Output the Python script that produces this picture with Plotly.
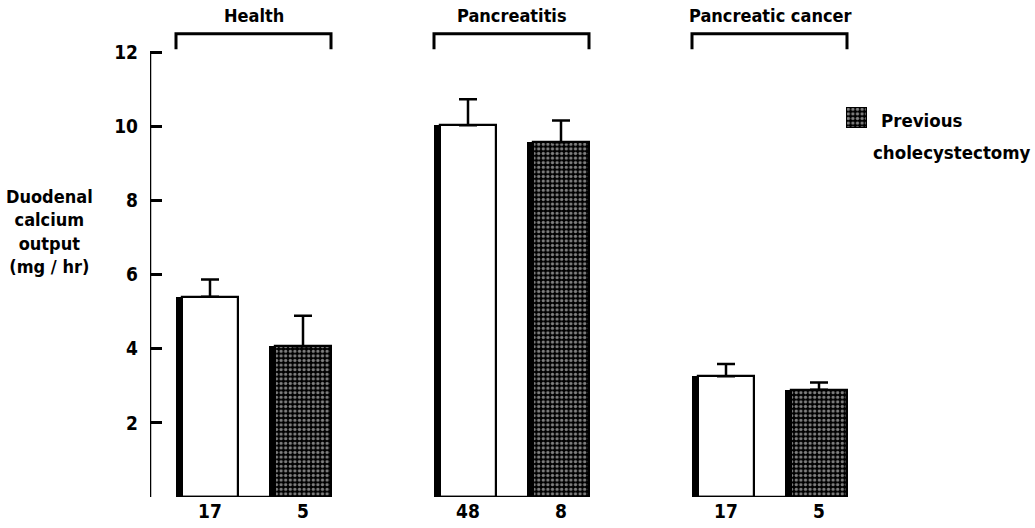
import plotly.graph_objects as go

# ---------------- data ----------------
groups = ["Health", "Pancreatitis", "Pancreatic cancer"]
mean_no_chole = [5.40, 10.03, 3.26]      # open bars
err_no_chole = [0.47, 0.70, 0.33]
mean_chole = [4.07, 9.57, 2.89]          # hatched bars (previous cholecystectomy)
err_chole = [0.82, 0.59, 0.20]
n_no_chole = ["17", "48", "17"]
n_chole = ["5", "8", "5"]
y_ticks = [0, 2, 4, 6, 8, 10, 12]
y_ticktext = ["", "2", "4", "6", "8", "10", "12"]
y_title = "Duodenal<br>calcium<br>output<br>(mg / hr)"
legend_lines = ["Previous", "cholecystectomy"]

# ---------------- layout geometry (pixel-like x units) ----------------
G0, GSTEP, PSTEP, FOOT_W, SH_W = 176, 258, 93, 62, 6
FONT = "DejaVu Sans Condensed, Liberation Sans Narrow, Arial Narrow, sans-serif"
PL, PT, PB, W, H = 150, 4, 31, 1035, 528
PW, PH = W - PL, H - PT - PB

def foot_left(g, k):
    return G0 + g * GSTEP + k * PSTEP

body_w = FOOT_W - SH_W
x_body_open = [foot_left(g, 0) + SH_W + body_w / 2 for g in range(len(groups))]
x_body_hatch = [foot_left(g, 1) + SH_W + body_w / 2 for g in range(len(groups))]
x_sh_open = [foot_left(g, 0) + SH_W / 2 for g in range(len(groups))]
x_sh_hatch = [foot_left(g, 1) + SH_W / 2 for g in range(len(groups))]

HATCH = dict(shape=".", fgcolor="white", bgcolor="black", size=4.6, solidity=0.4)

fig = go.Figure()

# shadows (black left faces)
fig.add_trace(go.Bar(x=x_sh_open + x_sh_hatch, y=mean_no_chole + mean_chole,
                     width=SH_W, marker=dict(color="black", line=dict(width=0)),
                     showlegend=False, hoverinfo="skip"))
# open bars
fig.add_trace(go.Bar(x=x_body_open, y=mean_no_chole, width=body_w,
                     marker=dict(color="white", line=dict(color="black", width=2.2)),
                     error_y=dict(type="data", array=err_no_chole, arrayminus=[0] * 3,
                                  symmetric=False, color="black", thickness=2.5, width=9),
                     showlegend=False))
# hatched bars
fig.add_trace(go.Bar(x=x_body_hatch, y=mean_chole, width=body_w,
                     marker=dict(color="black", line=dict(color="black", width=2.2),
                                 pattern=HATCH),
                     error_y=dict(type="data", array=err_chole, arrayminus=[0] * 3,
                                  symmetric=False, color="black", thickness=2.5, width=9),
                     showlegend=False))

# legend key (patterned square on tiny overlay axes)
fig.add_trace(go.Bar(x=[0.5], y=[1], width=1, xaxis="x2", yaxis="y2",
                     marker=dict(color="black", line=dict(color="black", width=2),
                                 pattern=HATCH),
                     showlegend=False, hoverinfo="skip"))

def px_x(px):
    return (px - PL) / PW

def px_y(py):
    return (H - PB - py) / PH

shapes = []
# y-axis line
shapes.append(dict(type="line", xref="x", yref="y", x0=150, x1=150, y0=0, y1=12,
                   line=dict(color="black", width=2.5)))
annotations = []
TF = dict(size=18, family=FONT, color="black", weight="bold")
for g, name in enumerate(groups):
    left = foot_left(g, 0)
    right = foot_left(g, 1) + FOOT_W
    shapes.append(dict(type="line", xref="x", yref="y", x0=left, x1=right, y0=0, y1=0,
                       line=dict(color="black", width=2.5)))
    shapes.append(dict(type="path", xref="x", yref="y",
                       path=f"M {left} 12.08 L {left} 12.5 L {right} 12.5 L {right} 12.08",
                       line=dict(color="black", width=3)))
    annotations.append(dict(x=(left + right) / 2, y=13.0, xref="x", yref="y", text=name,
                            showarrow=False, font=TF))

annotations.append(dict(x=px_x(49), y=px_y(231), xref="paper", yref="paper", text=y_title,
                        showarrow=False, xanchor="center", yanchor="middle", align="center",
                        font=dict(TF, size=18)))
annotations.append(dict(x=879, y=10.17, xref="x", yref="y", text=legend_lines[0],
                        showarrow=False, xanchor="left", font=dict(TF, size=18.5)))
annotations.append(dict(x=871, y=9.30, xref="x", yref="y", text=legend_lines[1],
                        showarrow=False, xanchor="left", font=dict(TF, size=18.5)))

fig.update_layout(
    width=W, height=H,
    margin=dict(l=PL, r=0, t=PT, b=PB, autoexpand=False),
    paper_bgcolor="white", plot_bgcolor="white",
    barmode="overlay", bargap=0,
    shapes=shapes, annotations=annotations,
    font=dict(family=FONT, size=18, color="black", weight="bold"),
    xaxis=dict(range=[PL, W], showgrid=False, zeroline=False, showline=False,
               automargin=False,
               tickvals=x_body_open + x_body_hatch, ticktext=n_no_chole + n_chole,
               ticks="", ticklabelstandoff=1, tickfont=dict(TF, size=19)),
    yaxis=dict(range=[0, 13.3], showgrid=False, zeroline=False, showline=False,
               automargin=False,
               tickvals=y_ticks, ticktext=y_ticktext, ticks="inside", ticklen=12,
               tickwidth=2.5, tickcolor="black", ticklabelstandoff=11,
               tickfont=dict(TF, size=19)),
    xaxis2=dict(domain=[px_x(846), px_x(867)], range=[0, 1], visible=False, anchor="y2"),
    yaxis2=dict(domain=[px_y(128), px_y(107)], range=[0, 1], visible=False, anchor="x2"),
    showlegend=False,
)

fig.write_html("out.html", config={"displayModeBar": False},
               post_script="document.body.style.margin='0';")
